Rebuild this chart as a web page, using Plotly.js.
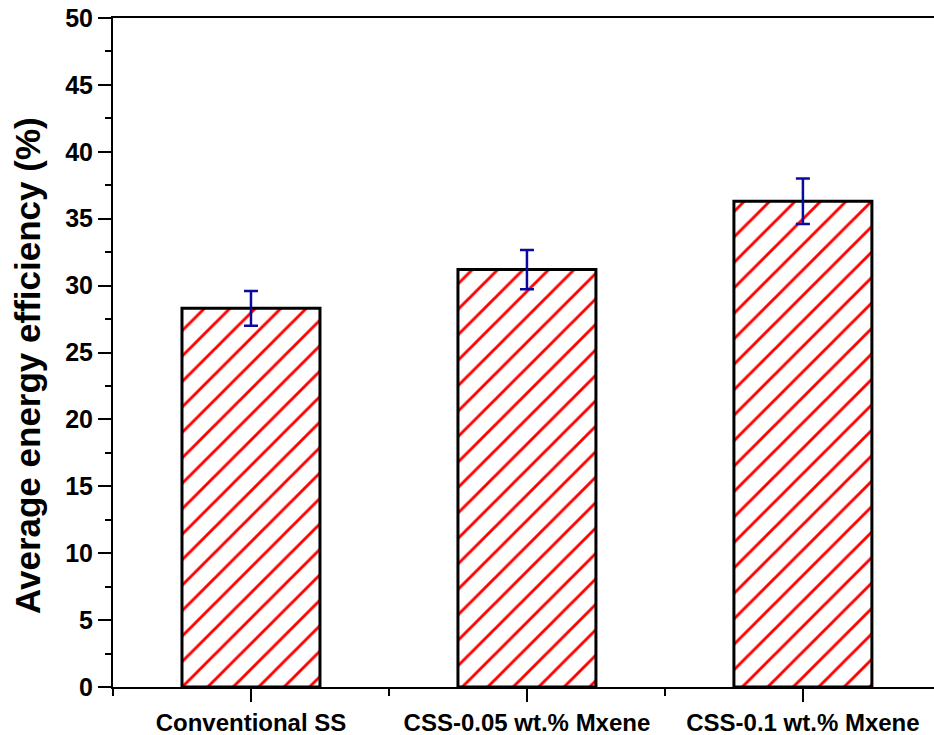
<!DOCTYPE html>
<html>
<head>
<meta charset="utf-8">
<script src="https://cdn.plot.ly/plotly-3.0.1.min.js"></script>
<style>html,body{margin:0;padding:0;background:#fff;}#chart{width:934px;height:735px;}</style>
</head>
<body>
<div id="chart"></div>
<script>
const categories = ["Conventional SS", "CSS-0.05 wt.% Mxene", "CSS-0.1 wt.% Mxene"];
const efficiency = [28.3, 31.2, 36.3];
const errors = [1.3, 1.47, 1.7];
const yTicks = [0, 5, 10, 15, 20, 25, 30, 35, 40, 45, 50];
const yTitle = 'Average energy efficiency (%)';

const xPos = categories.map((c, i) => i);

const trace = {
  type: 'bar',
  x: xPos,
  y: efficiency,
  width: 0.5,
  marker: {
    color: 'white',
    line: {color: 'black', width: 3},
    pattern: {shape: '/', fgcolor: '#ff0000', fgopacity: 1, bgcolor: 'white', size: 18, solidity: 0.16, fillmode: 'overlay'}
  },
  error_y: {type: 'data', array: errors, visible: true, color: '#0a0aa0', thickness: 2.5, width: 7},
  hoverinfo: 'none'
};

const layout = {
  width: 934, height: 735,
  margin: {l: 113, r: 0, t: 18, b: 48},
  paper_bgcolor: 'white', plot_bgcolor: 'white',
  showlegend: false,
  xaxis: {
    range: [-0.5, 2.475],
    tickmode: 'array', tickvals: xPos, ticktext: categories,
    ticks: 'outside', ticklen: 13, tickwidth: 2, tickcolor: 'black',
    showline: true, linecolor: 'black', linewidth: 2, mirror: true,
    showgrid: false, zeroline: false,
    tickfont: {family: 'Liberation Sans, Arial, sans-serif', size: 24, color: 'black', weight: 'bold'},
    minor: {tickmode: 'array', tickvals: [-0.5, 0.5, 1.5, 2.5], ticks: 'outside', ticklen: 7, tickwidth: 2, tickcolor: 'black', showgrid: false}
  },
  yaxis: {
    range: [0, 50],
    tickmode: 'array', tickvals: yTicks,
    ticks: 'outside', ticklen: 13, tickwidth: 2, tickcolor: 'black',
    showline: true, linecolor: 'black', linewidth: 2, mirror: false,
    showgrid: false, zeroline: false,
    tickfont: {family: 'Liberation Sans, Arial, sans-serif', size: 25, color: 'black', weight: 'bold'},
    minor: {dtick: 2.5, tick0: 0, ticks: 'outside', ticklen: 6, tickwidth: 2, tickcolor: 'black', showgrid: false}
  },
  annotations: [{
    text: yTitle, textangle: -90, showarrow: false,
    xref: 'paper', yref: 'paper', x: -0.105, y: 0.481, xanchor: 'center', yanchor: 'middle',
    font: {family: 'Liberation Sans, Arial, sans-serif', size: 35, color: 'black', weight: 'bold'}
  }]
};

Plotly.newPlot('chart', [trace], layout, {displayModeBar: false, staticPlot: true});
</script>
</body>
</html>
